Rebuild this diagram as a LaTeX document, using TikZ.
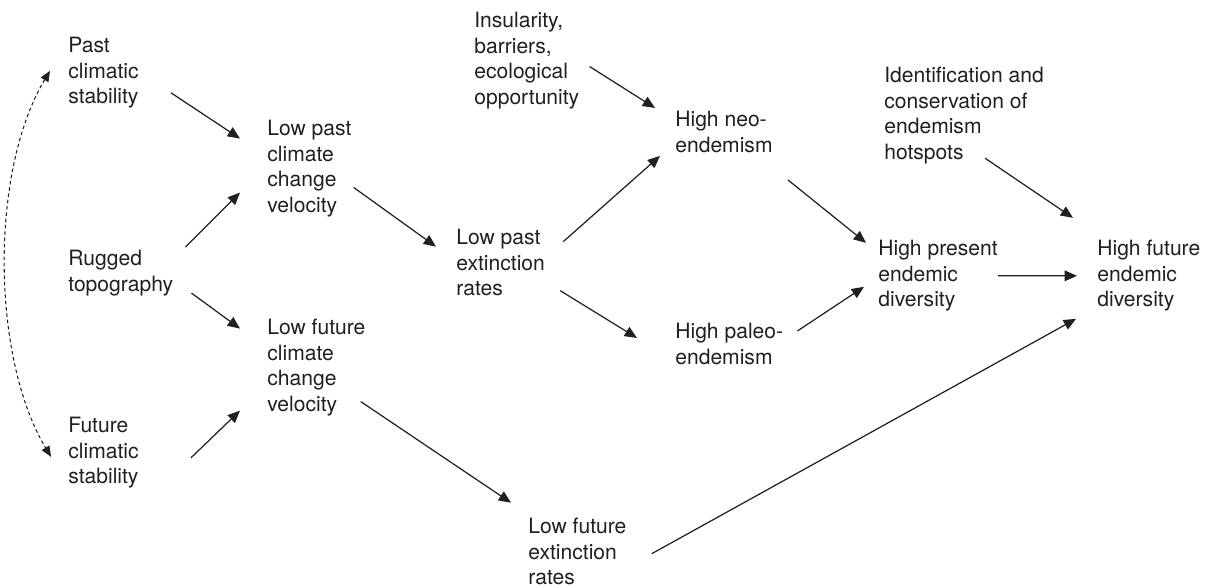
\documentclass[tikz,border=0pt]{standalone}
\usepackage{fontspec}
\setmainfont{TeX Gyre Heros}
\usepackage{xcolor}
\usetikzlibrary{arrows.meta}
\usetikzlibrary{calc}

\definecolor{ink}{HTML}{231F20}

\tikzset{
  lbl/.style={anchor=north west, align=left, inner sep=0pt, text=ink,
    font=\fontsize{12pt}{14.5pt}\selectfont},
  arr/.style={draw=ink, line width=0.7pt, -{Triangle[length=7pt,width=6pt]}},
  dasharr/.style={draw=ink, line width=0.6pt, dash pattern=on 2pt off 1.6pt,
    {Triangle[length=6pt,width=5pt]}-{Triangle[length=6pt,width=5pt]}}
}

\begin{document}
\begin{tikzpicture}[x=0.02cm, y=-0.02cm]
\useasboundingbox (0,0) rectangle (1207,588);

% left column
\node[lbl] (past)   at (68,37)  {Past\\climatic\\stability};
\node[lbl] (rugged) at (68,250) {Rugged\\topography};
\node[lbl] (future) at (68,417) {Future\\climatic\\stability};

% velocities
\node[lbl] (lowpv) at (267,120) {Low past\\climate\\change\\velocity};
\node[lbl] (lowfv) at (267,319) {Low future\\climate\\change\\velocity};

% extinction
\node[lbl] (lowpe) at (456,229) {Low past\\extinction\\rates};
\node[lbl] (lowfe) at (528,518) {Low future\\extinction\\rates};

% endemism
\node[lbl] (insul) at (474,12)  {Insularity,\\barriers,\\ecological\\opportunity};
\node[lbl] (neo)   at (675,111) {High neo-\\endemism};
\node[lbl] (paleo) at (675,323) {High paleo-\\endemism};

% diversity
\node[lbl] (ident)   at (884,67)   {Identification and\\conservation of\\endemism\\hotspots};
\node[lbl] (present) at (878,240)  {High present\\endemic\\diversity};
\node[lbl] (hfut)    at (1097,240) {High future\\endemic\\diversity};

% arrows
\draw[arr] ($(past.east)+(32,20)$)    -- ($(lowpv.west)+(-27,-30)$);
\draw[arr] ($(rugged.east)+(12,-26)$) -- ($(lowpv.west)+(-27,24)$);
\draw[arr] ($(rugged.east)+(18,20)$)  -- ($(lowfv.west)+(-27,-39)$);
\draw[arr] ($(future.east)+(52,5)$)   -- ($(lowfv.west)+(-27,43)$);

\draw[arr] ($(lowpv.east)+(2,19)$)   -- ($(lowpe.west)+(-20,-16)$);
\draw[arr] ($(lowfv.east)+(-5,34)$)  -- ($(lowfe.west)+(-17,-49)$);

\draw[arr] ($(lowpe.east)+(18,-21)$) -- ($(neo.west)+(-15,24)$);
\draw[arr] ($(lowpe.east)+(15,28)$)  -- ($(paleo.west)+(-38,-6)$);
\draw[arr] ($(insul.east)+(10,6)$)   -- ($(neo.west)+(-20,-24)$);

\draw[arr] ($(neo.east)+(15,48)$)    -- ($(present.west)+(-12,-33)$);
\draw[arr] ($(paleo.east)+(14,-13)$) -- ($(present.west)+(-14,11)$);

\draw[arr] ($(ident.south west)+(101,-6)$) -- ($(hfut.west)+(-24,-58)$);
\draw[arr] (present.east) -- ($(hfut.west)+(-20,0)$);
\draw[arr] ($(lowfe.east)+(25,2)$) -- ($(hfut.west)+(-21,43)$);

% stability link
\draw[dasharr] ($(past.west)+(-18,-2)$) .. controls +(-60,100) and +(-60,-100) .. ($(future.west)+(-17,4)$);

\end{tikzpicture}
\end{document}
